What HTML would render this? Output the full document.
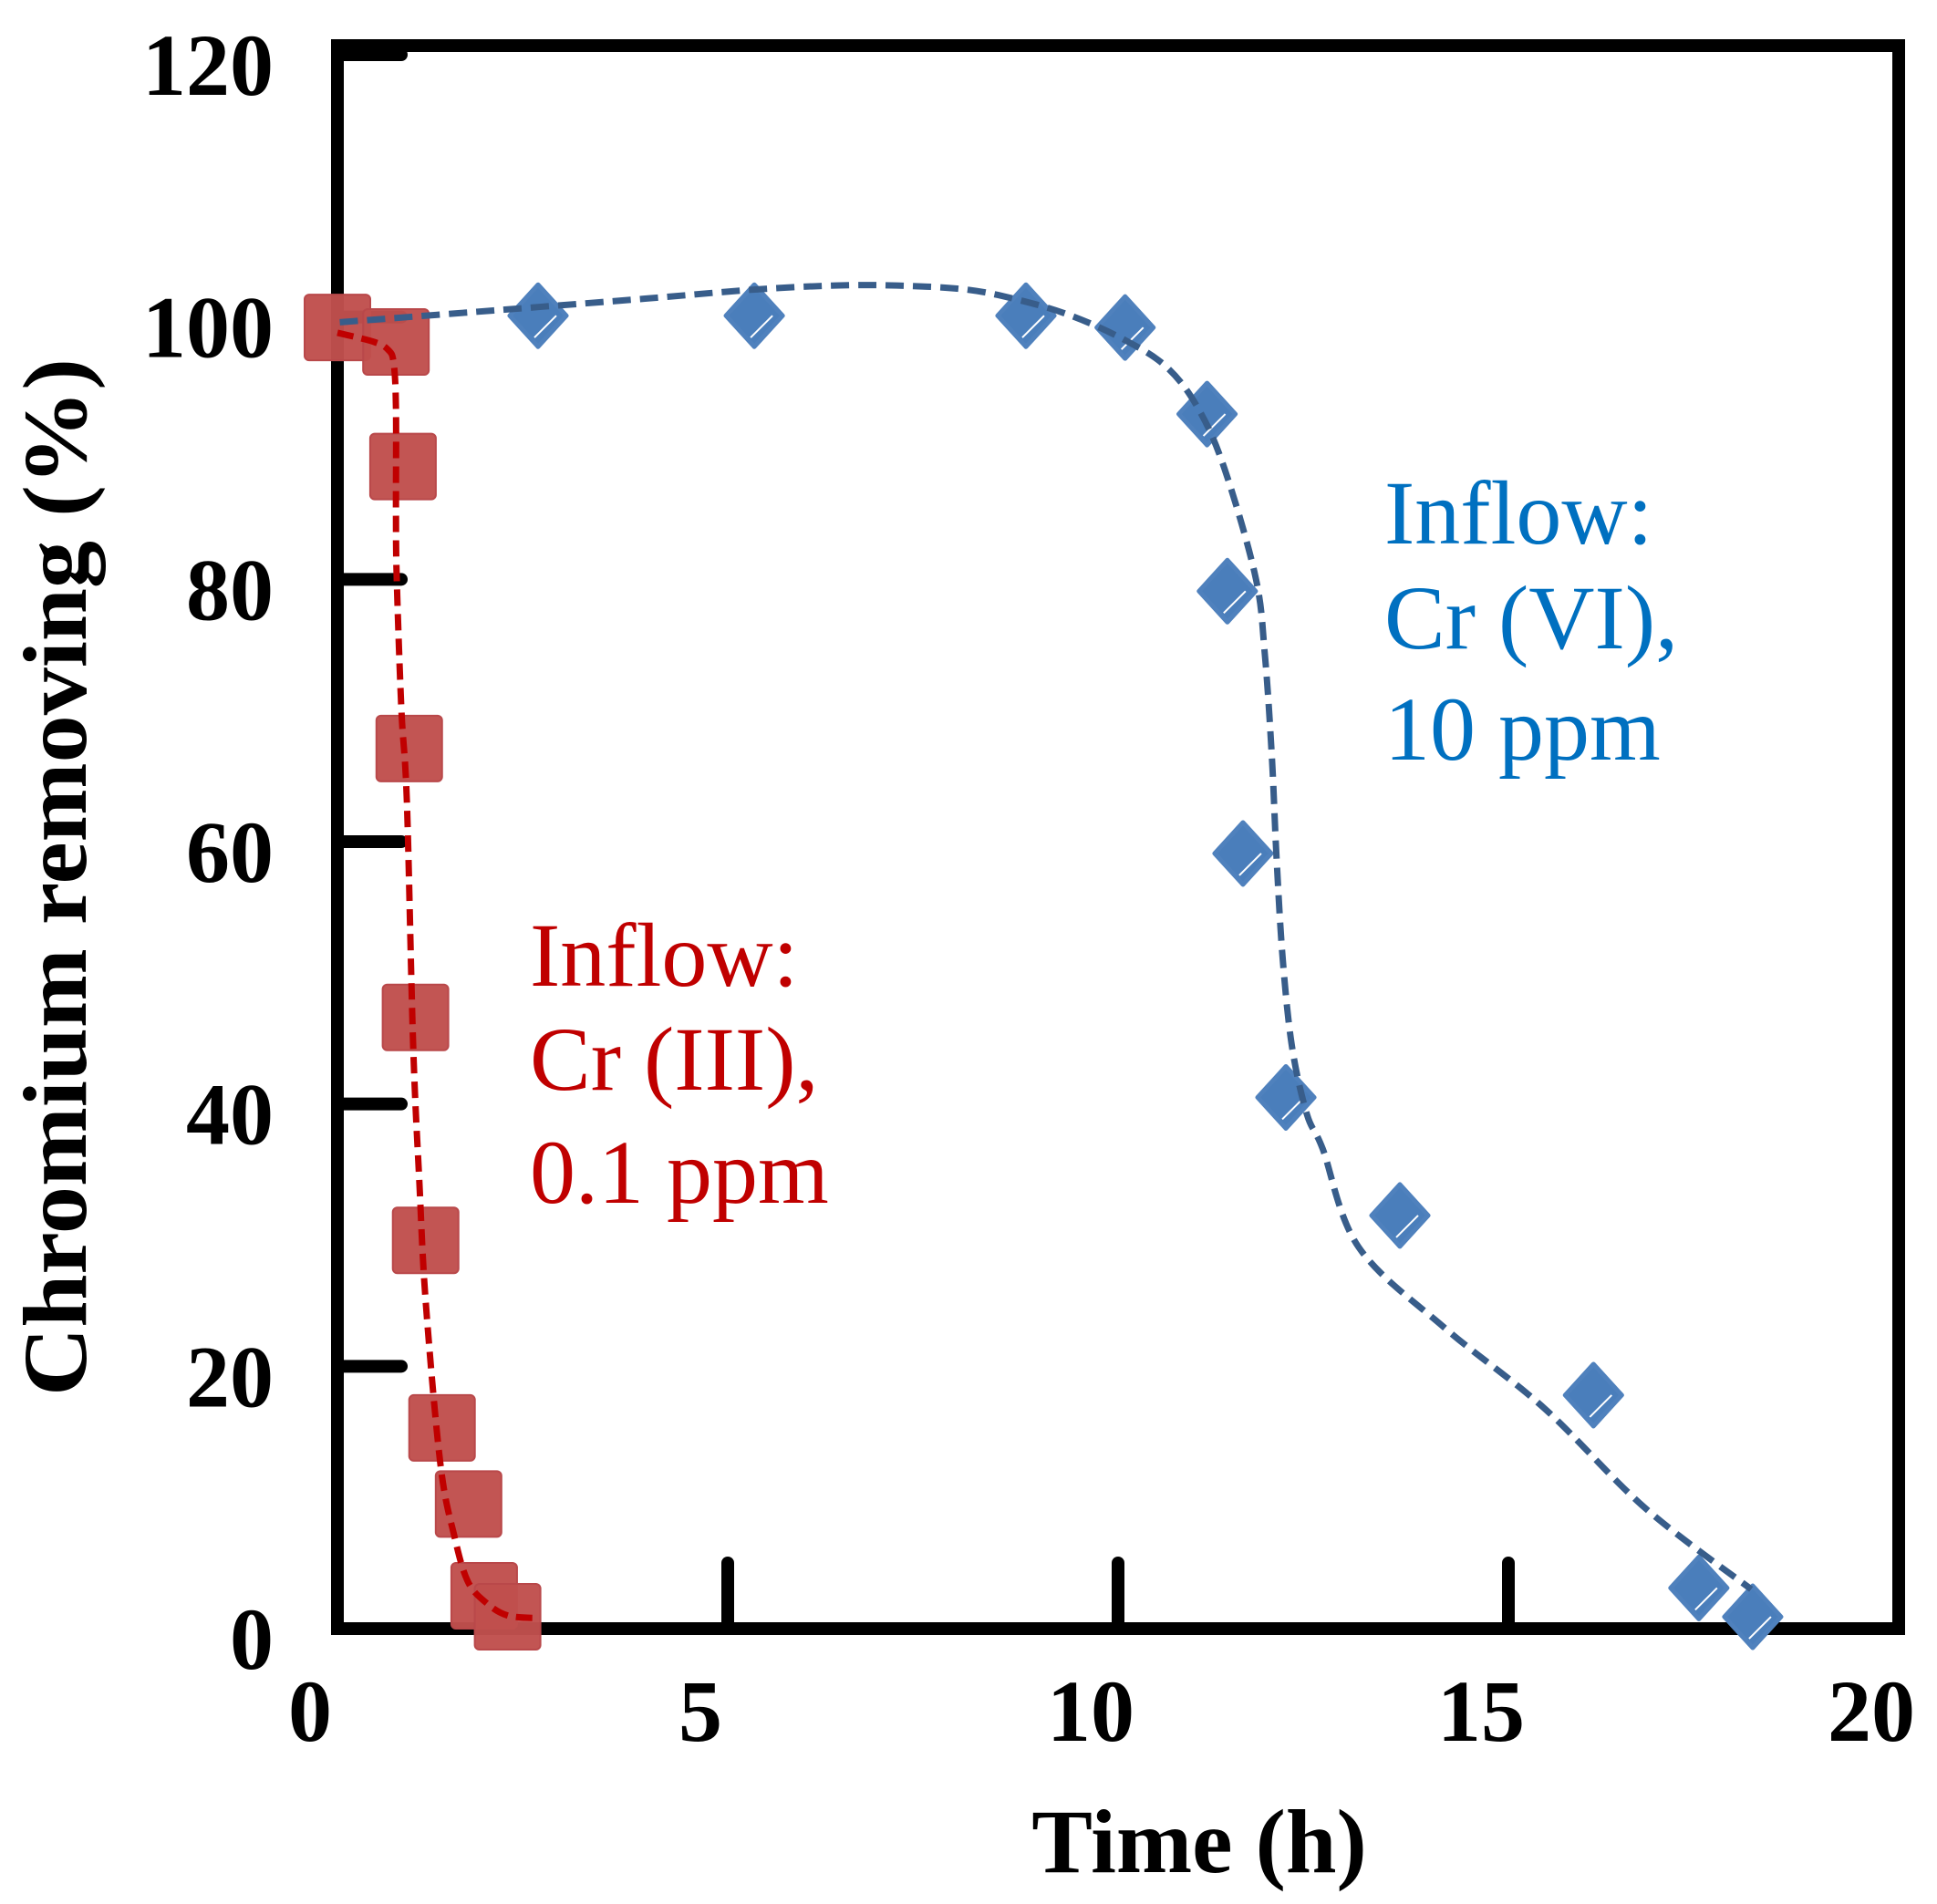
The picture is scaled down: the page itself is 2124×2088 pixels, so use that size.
<!DOCTYPE html>
<html><head><meta charset="utf-8">
<style>
html,body{margin:0;padding:0;background:#fff;}
svg{display:block;}
text{font-family:"Liberation Serif",serif;}
</style></head>
<body>
<svg id="chart" width="2124" height="2088" viewBox="0 0 2124 2088" xmlns="http://www.w3.org/2000/svg">
  <rect x="0" y="0" width="2124" height="2088" fill="#fff"/>
  <g id="axes"></g>
  <g id="curves"></g>
  <g id="marks"></g>
  <text x="94" y="962" transform="rotate(-90 94 962)" text-anchor="middle" font-weight="bold" font-size="100" textLength="1138" lengthAdjust="spacingAndGlyphs">Chromium removing (%)</text>
  <text x="1315" y="2053" text-anchor="middle" font-weight="bold" font-size="100">Time (h)</text>
  <g fill="#c00000" font-size="100">
    <text x="581" y="1081">Inflow:</text>
    <text x="581" y="1195">Cr (III),</text>
    <text x="581" y="1319">0.1 ppm</text>
  </g>
  <g fill="#0070c0" font-size="100">
    <text x="1518" y="596">Inflow:</text>
    <text x="1518" y="711">Cr (VI),</text>
    <text x="1518" y="833">10 ppm</text>
  </g>
</svg>
<script>
const xTicks = [0, 5, 10, 15, 20];
const yTicks = [0, 20, 40, 60, 80, 100, 120];
const cr3X = [0, 0.75, 0.84, 0.92, 1.00, 1.13, 1.34, 1.68, 1.88, 2.18];
const cr3Y = [99.2, 98.1, 88.6, 67.1, 46.6, 29.6, 15.3, 9.5, 2.5, 0.9];
const cr6X = [2.57, 5.34, 8.82, 10.09, 11.14, 11.40, 11.60, 12.15, 13.61, 16.09, 17.44, 18.13];
const cr6Y = [100.1, 100.1, 100.1, 99.2, 92.6, 79.1, 59.1, 40.5, 31.5, 17.8, 3.1, 0.9];
const cr3FitX = [0, 0.47, 0.65, 0.72, 0.75, 0.75, 0.76, 0.82, 0.89, 0.97, 1.05, 1.13, 1.32, 1.5, 1.67, 1.9, 2.18, 2.57];
const cr3FitY = [98.8, 98.1, 97.5, 96.5, 93, 85, 80, 70, 63, 44.5, 34, 25, 12.5, 7, 3.6, 2.0, 1.0, 0.8];
const cr6FitX = [0.03, 2.0, 3.94, 5.35, 6.37, 7.17, 8.05, 8.73, 9.40, 10.07, 10.62, 11.02, 11.36, 11.76, 11.88, 11.97, 12.03, 12.11, 12.23, 12.42, 12.62, 13.08, 14.19, 15.46, 16.75, 18.11];
const cr6FitY = [99.6, 100.5, 101.4, 102.1, 102.4, 102.4, 102.1, 101.3, 100.1, 98.3, 96.2, 93.1, 88.5, 80.2, 74.3, 66.5, 58.8, 51.0, 44.3, 39.2, 36.6, 29.1, 22.9, 16.8, 9.2, 3.0];

const X0 = 370, X1 = 2082, Y0 = 1786, Y1 = 60;
const xs = v => X0 + v * (X1 - X0) / 20;
const ys = v => Y0 - v * (Y0 - Y1) / 120;
const NS = "http://www.w3.org/2000/svg";
function mk(tag, attrs, parent) {
  const e = document.createElementNS(NS, tag);
  for (const k in attrs) e.setAttribute(k, attrs[k]);
  parent.appendChild(e);
  return e;
}
const axes = document.getElementById('axes');
const curves = document.getElementById('curves');
const marks = document.getElementById('marks');

xTicks.forEach(t => {
  const x = xs(t);
  if (t > 0 && t < 20) {
    const tk = mk('line', {x1: x, y1: Y0, x2: x, y2: Y0 - 72, stroke: '#000', 'stroke-width': 14, 'stroke-linecap': 'round'}, axes);
    
    
  }
  const lb = mk('text', {x: x - 30, y: 1909, 'text-anchor': 'middle', 'font-weight': 'bold', 'font-size': 96}, axes);
  lb.textContent = t;
  
  
});
[0, 20].forEach(t => {
  const x = xs(t);
  const tk = mk('line', {x1: x, y1: Y0, x2: x, y2: Y0 - 68, stroke: '#000', 'stroke-width': 14}, axes);
  
  
});
yTicks.forEach(t => {
  const y = ys(t);
  const tk = mk('line', {x1: X0, y1: y, x2: X0 + 70, y2: y, stroke: '#000', 'stroke-width': 14, 'stroke-linecap': 'round'}, axes);
  
  
  const lb = mk('text', {x: 300, y: y + 44, 'text-anchor': 'end', 'font-weight': 'bold', 'font-size': 96}, axes);
  lb.textContent = t;
  
  
});
const frame = mk('rect', {x: X0, y: 50, width: X1 - X0, height: Y0 - 50, fill: 'none', stroke: '#000', 'stroke-width': 14}, axes);



function smoothPath(px, py) {
  const p = px.map((v, i) => [xs(v), ys(py[i])]);
  let d = 'M' + p[0][0] + ',' + p[0][1];
  for (let i = 0; i < p.length - 1; i++) {
    const a = p[Math.max(0, i - 1)], b = p[i], c = p[i + 1], e = p[Math.min(p.length - 1, i + 2)];
    const c1x = b[0] + (c[0] - a[0]) / 6, c1y = b[1] + (c[1] - a[1]) / 6;
    const c2x = c[0] - (e[0] - b[0]) / 6, c2y = c[1] - (e[1] - b[1]) / 6;
    d += ' C' + c1x + ',' + c1y + ' ' + c2x + ',' + c2y + ' ' + c[0] + ',' + c[1];
  }
  return d;
}

cr3X.forEach((v, i) => {
  const cx = xs(v), cy = ys(cr3Y[i]);
  const r = mk('rect', {x: cx - 36, y: cy - 36, width: 72, height: 72, rx: 5, fill: '#c0504d', 'fill-opacity': 0.97, stroke: '#b9484a', 'stroke-width': 2}, marks);
  
  
});
cr6X.forEach((v, i) => {
  const cx = xs(v), cy = ys(cr6Y[i]);
  const g = mk('g', {}, marks);
  
  
  mk('path', {d: `M${cx},${cy - 34} L${cx + 31},${cy} L${cx},${cy + 34} L${cx - 31},${cy} Z`, fill: '#4a7ebb', stroke: '#4f81bd', 'stroke-width': 5, 'stroke-linejoin': 'round'}, g);
  mk('line', {x1: cx + 20, y1: cy, x2: cx - 4, y2: cy + 24, stroke: '#fff', 'stroke-width': 2}, g);
});

const rc = mk('path', {d: smoothPath(cr3FitX, cr3FitY), fill: 'none', stroke: '#c00000', 'stroke-width': 7, 'stroke-dasharray': '18,9'}, curves);


const bc = mk('path', {d: smoothPath(cr6FitX, cr6FitY), fill: 'none', stroke: '#385d8a', 'stroke-width': 7, 'stroke-dasharray': '20,10'}, curves);


document.getElementById('chart').appendChild(curves);
</script>
</body></html>
